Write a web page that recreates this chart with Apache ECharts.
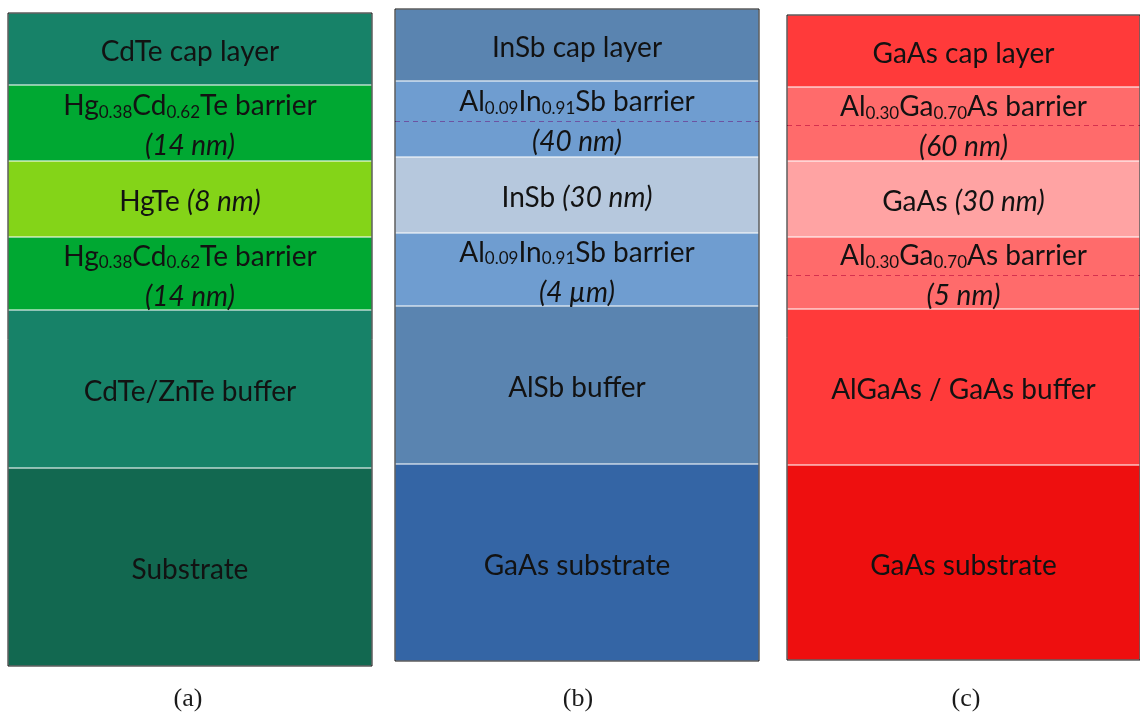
<!DOCTYPE html>
<html>
<head>
<meta charset="utf-8">
<title>Quantum well layer stacks</title>
<script src="https://cdn.jsdelivr.net/npm/echarts@6/dist/echarts.min.js"></script>
<style>
  html, body { margin: 0; padding: 0; background: #ffffff; }
  #chart { width: 1140px; height: 715px; }
</style>
</head>
<body>
<div id="chart"></div>
<script>
// Layer stacks, listed from the substrate upwards. Thicknesses are schematic units.
const stackCategory = ['stack'];
const panelCaptions = ['(a)', '(b)', '(c)'];

// (a) HgTe quantum well
const layersA = [
  'Substrate',
  'CdTe/ZnTe buffer',
  'Hg{sub|0.38}Cd{sub|0.62}Te barrier\n{it|(14 nm)}',
  'HgTe {it|(8 nm)}',
  'Hg{sub|0.38}Cd{sub|0.62}Te barrier\n{it|(14 nm)}',
  'CdTe cap layer'
];
const thicknessA = [198, 158, 73, 76, 76, 72];
const dashLevelsA = [];

// (b) InSb quantum well
const layersB = [
  'GaAs substrate',
  'AlSb buffer',
  'Al{sub|0.09}In{sub|0.91}Sb barrier\n{it|(4 µm)}',
  'InSb {it|(30 nm)}',
  'Al{sub|0.09}In{sub|0.91}Sb barrier\n{it|(40 nm)}',
  'InSb cap layer'
];
const thicknessB = [197, 158, 73, 76, 76, 72];
const dashLevelsB = [540];

// (c) GaAs quantum well
const layersC = [
  'GaAs substrate',
  'AlGaAs / GaAs buffer',
  'Al{sub|0.30}Ga{sub|0.70}As barrier\n{it|(5 nm)}',
  'GaAs {it|(30 nm)}',
  'Al{sub|0.30}Ga{sub|0.70}As barrier\n{it|(60 nm)}',
  'GaAs cap layer'
];
const thicknessC = [195, 156, 72, 76, 74, 72];
const dashLevelsC = [385, 535];

// Layer fill colours, substrate first
const colorsA = ['#126850', '#178268', '#00a832', '#84d418', '#00a832', '#178268'];
const colorsB = ['#3465a5', '#5a84b0', '#6f9dd0', '#b6c8dd', '#6f9dd0', '#5a84b0'];
const colorsC = ['#ee0f0f', '#ff3a3a', '#ff6b6b', '#ffa3a3', '#ff6b6b', '#ff3a3a'];

const panels = [
  { layers: layersA, values: thicknessA, colors: colorsA, dashes: dashLevelsA, dashColor: '#6a4a9a',
    grid: { left: 8, top: 13, width: 364, height: 653 }, caption: { x: 183, y: 681 } },
  { layers: layersB, values: thicknessB, colors: colorsB, dashes: dashLevelsB, dashColor: '#6c4c9c',
    grid: { left: 395, top: 9, width: 364, height: 652 }, caption: { x: 573, y: 681 } },
  { layers: layersC, values: thicknessC, colors: colorsC, dashes: dashLevelsC, dashColor: '#d22a4c',
    grid: { left: 787, top: 15, width: 358, height: 645 }, caption: { x: 961, y: 681 } }
];

const baseFont = 'Lato';
const textColor = '#121212';
const richStyles = {
  sub: { fontSize: 17, fontFamily: baseFont, color: textColor, padding: [13, 0, 0, 0] },
  it: { fontSize: 28, fontFamily: baseFont, fontStyle: 'italic', color: textColor }
};

const grids = [], xAxes = [], yAxes = [], series = [], titles = [];

panels.forEach((p, gi) => {
  const total = p.values.reduce((a, b) => a + b, 0);
  grids.push(Object.assign({
    show: true, borderColor: '#0c0c0c', borderWidth: 1,
    backgroundColor: 'transparent', z: 10
  }, p.grid));
  xAxes.push({ type: 'category', gridIndex: gi, data: stackCategory, show: false,
               boundaryGap: true });
  yAxes.push({ type: 'value', gridIndex: gi, min: 0, max: total, show: false,
               splitLine: { show: false } });

  p.values.forEach((v, li) => {
    series.push({
      type: 'bar',
      name: p.layers[li],
      xAxisIndex: gi,
      yAxisIndex: gi,
      stack: 'layers' + gi,
      barWidth: '100%',
      barCategoryGap: 0,
      data: [v],
      itemStyle: { color: p.colors[li], borderColor: 'rgba(255,255,255,0.07)', borderWidth: 1 },
      label: {
        show: true,
        position: 'inside',
        offset: [0, 3],
        formatter: p.layers[li],
        fontFamily: baseFont,
        fontSize: 28,
        color: textColor,
        lineHeight: 40,
        align: 'center',
        rich: richStyles
      },
      silent: true
    });
  });

  if (p.dashes.length) {
    series.push({
      type: 'line',
      xAxisIndex: gi,
      yAxisIndex: gi,
      data: [],
      silent: true,
      markLine: {
        silent: true,
        symbol: 'none',
        label: { show: false },
        lineStyle: { type: [5, 4], color: p.dashColor, width: 1, opacity: 0.9 },
        data: p.dashes.map(d => ({ yAxis: d }))
      },
      z: 5
    });
  }

  titles.push({
    text: panelCaptions[gi],
    left: p.caption.x,
    top: p.caption.y,
    textAlign: 'center',
    textStyle: { fontFamily: 'Liberation Serif', fontSize: 26, fontWeight: 'normal', color: '#1a1a1a' }
  });
});

const chart = echarts.init(document.getElementById('chart'), null, { renderer: 'canvas' });
chart.setOption({
  animation: false,
  backgroundColor: '#ffffff',
  title: titles,
  grid: grids,
  xAxis: xAxes,
  yAxis: yAxes,
  series: series
});
</script>
</body>
</html>
